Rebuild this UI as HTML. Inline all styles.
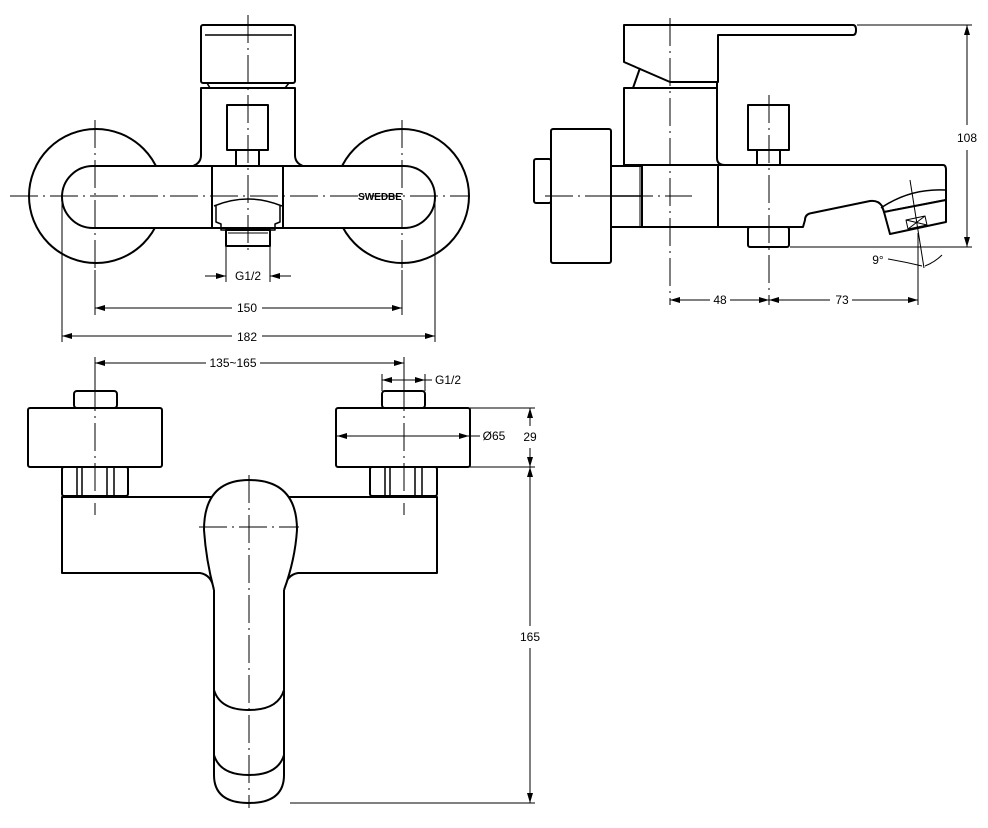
<!DOCTYPE html>
<html><head><meta charset="utf-8"><style>html,body{margin:0;padding:0;background:#fff}svg{display:block}</style></head>
<body>
<svg width="988" height="828" viewBox="0 0 988 828" xmlns="http://www.w3.org/2000/svg" font-family="Liberation Sans, sans-serif" font-size="12">
<defs>
<marker id="a" viewBox="0 0 10 6" refX="10" refY="3" markerWidth="10" markerHeight="6" orient="auto-start-reverse" markerUnits="userSpaceOnUse"><path d="M0,0 L10,3 L0,6 z" fill="#000"/></marker>
</defs>
<g fill="none" stroke="#000" stroke-width="2" stroke-linejoin="round">
<circle cx="96" cy="196" r="67"/>
<circle cx="402" cy="196" r="67"/>
<rect x="62" y="166" width="373" height="62" rx="31" fill="#fff"/>
<rect x="201" y="25" width="94" height="58" rx="2" fill="#fff"/>
<line x1="205" y1="35" x2="292" y2="35" stroke-width="1.5"/>
<path d="M207,83 L210,88 L285,88 L289,83" stroke-width="1.5"/>
<path d="M201,88 L201,155 Q201,163 193,166 L303,166 Q295,163 295,155 L295,88 Z" fill="#fff"/>
<rect x="227" y="105" width="41" height="45"/>
<rect x="236" y="150" width="23" height="16"/>
<rect x="212" y="166" width="71" height="62" fill="#fff"/>
<path d="M214,206 Q248,192 282,206" stroke-width="1.5"/>
<path d="M216,206 L216,222 L221,224 L221,230 L275,230 L275,224 L280,222 L280,206" stroke-width="1.5"/>
<rect x="226" y="230" width="44" height="16" fill="#fff"/>
<line x1="228" y1="233" x2="268" y2="233" stroke-width="1"/>
<path d="M624,25 L853,25 Q856,25 856,30 Q856,35 853,35 L718,35 L718,82 L670,82 L624,62 Z" fill="#fff"/>
<path d="M633,88 L640,68"/>
<path d="M624,88 L717,88 L717,158 Q717,165 725,165 L624,165 Z" fill="#fff"/>
<line x1="717" y1="82" x2="717" y2="88"/>
<rect x="551" y="129" width="60" height="134" rx="2" fill="#fff"/>
<rect x="534" y="159" width="17" height="44" rx="2" fill="#fff"/>
<rect x="611" y="166" width="31" height="61" fill="#fff"/>
<line x1="611" y1="196" x2="642" y2="196" stroke-width="1.5"/>
<line x1="640" y1="166" x2="640" y2="227" stroke-width="1"/>
<path d="M642,165 L943,165 Q946,165 946,170 L946,200 L884,212 L882,206 Q878,200 870,201 L812,213 Q805,214 805,220 L803,227 L642,227 Z" fill="#fff"/>
<line x1="718" y1="165" x2="718" y2="227"/>
<path d="M881,208 Q910,188 946,190" stroke-width="1.5"/>
<path d="M884,212 L946,200 L946,222 L890,234 Z" fill="#fff"/>
<path d="M906,220 L925,216 L927,225 L908,229 Z M906,220 L927,225 M925,216 L908,229" stroke-width="1"/>
<rect x="748" y="105" width="41" height="45"/>
<rect x="757" y="150" width="23" height="15"/>
<rect x="748" y="227" width="41" height="20" rx="2"/>
<rect x="28" y="408" width="134" height="59" rx="2" fill="#fff"/>
<rect x="74" y="391" width="43" height="17" rx="3"/>
<rect x="62" y="467" width="66" height="29" rx="2"/>
<path d="M77,467V496M82,467V496M107,467V496M114,467V496" stroke-width="1.5"/>
<rect x="336" y="408" width="134" height="59" rx="2" fill="#fff"/>
<rect x="382" y="391" width="43" height="17" rx="3"/>
<rect x="370" y="467" width="67" height="29" rx="2"/>
<path d="M385,467V496M390,467V496M415,467V496M422,467V496" stroke-width="1.5"/>
<path d="M62,497 L437,497 L437,573 L298,573 Q286,575 284,590 L284,775 Q284,803 249,803 Q214,803 214,775 L214,590 Q212,575 200,573 L62,573 Z" fill="#fff"/>
<path d="M214,590 Q206,560 204,530 Q204,480 249,480 Q297,480 297,530 Q295,560 284,590" fill="#fff"/>
<path d="M214,690 Q220,710 249,710 Q278,710 284,690" />
<path d="M214,755 Q220,775 249,775 Q278,775 284,755" />
</g>
<g stroke="#000" stroke-width="1" stroke-dasharray="28,5,2,5" fill="none">
<line x1="10" y1="196" x2="470" y2="196"/>
<line x1="248" y1="15" x2="248" y2="255"/>
<line x1="95" y1="120" x2="95" y2="270"/>
<line x1="402" y1="120" x2="402" y2="270"/>
<line x1="545" y1="196" x2="692" y2="196"/>
<line x1="670" y1="18" x2="670" y2="305"/>
<line x1="769" y1="95" x2="769" y2="305"/>
<line x1="95" y1="383" x2="95" y2="515"/>
<line x1="404" y1="383" x2="404" y2="515"/>
<line x1="249" y1="475" x2="249" y2="808"/>
<line x1="199" y1="527" x2="299" y2="527"/>
</g>
<g stroke="#000" stroke-width="1" fill="none">
<line x1="95" y1="270" x2="95" y2="315"/><line x1="402" y1="270" x2="402" y2="315"/>
<line x1="62" y1="200" x2="62" y2="342"/><line x1="435" y1="200" x2="435" y2="342"/>
<line x1="226" y1="246" x2="226" y2="282"/><line x1="270" y1="246" x2="270" y2="282"/>
<line x1="205" y1="276" x2="226" y2="276" marker-end="url(#a)"/><line x1="291" y1="276" x2="270" y2="276" marker-end="url(#a)"/>
<line x1="95" y1="308" x2="232" y2="308" marker-start="url(#a)"/><line x1="262" y1="308" x2="402" y2="308" marker-end="url(#a)"/>
<line x1="62" y1="336" x2="232" y2="336" marker-start="url(#a)"/><line x1="262" y1="336" x2="435" y2="336" marker-end="url(#a)"/>
<line x1="857" y1="25" x2="972" y2="25"/><line x1="790" y1="247" x2="972" y2="247"/>
<line x1="967" y1="25" x2="967" y2="125" marker-start="url(#a)"/><line x1="967" y1="150" x2="967" y2="247" marker-end="url(#a)"/>
<line x1="918" y1="233" x2="918" y2="305"/>
<line x1="670" y1="300" x2="710" y2="300" marker-start="url(#a)"/><line x1="730" y1="300" x2="769" y2="300" marker-end="url(#a)"/>
<line x1="769" y1="300" x2="830" y2="300" marker-start="url(#a)"/><line x1="852" y1="300" x2="918" y2="300" marker-end="url(#a)"/>
<line x1="910" y1="180" x2="924" y2="268"/>
<path d="M888,259 Q905,262 922,266"/><path d="M925,266 Q935,262 942,255"/>
<line x1="95" y1="357" x2="95" y2="383"/><line x1="404" y1="357" x2="404" y2="383"/>
<line x1="95" y1="363" x2="206" y2="363" marker-start="url(#a)"/><line x1="260" y1="363" x2="404" y2="363" marker-end="url(#a)"/>
<line x1="382" y1="374" x2="382" y2="391"/><line x1="425" y1="374" x2="425" y2="391"/>
<line x1="382" y1="380" x2="425" y2="380" marker-start="url(#a)" marker-end="url(#a)"/><line x1="425" y1="380" x2="432" y2="380"/>
<line x1="337" y1="436" x2="469" y2="436" marker-start="url(#a)" marker-end="url(#a)"/><line x1="469" y1="436" x2="480" y2="436"/>
<line x1="470" y1="408" x2="535" y2="408"/><line x1="470" y1="467" x2="535" y2="467"/><line x1="290" y1="803" x2="535" y2="803"/>
<line x1="530" y1="408" x2="530" y2="426" marker-start="url(#a)"/><line x1="530" y1="448" x2="530" y2="467" marker-end="url(#a)"/>
<line x1="530" y1="467" x2="530" y2="626" marker-start="url(#a)"/><line x1="530" y1="648" x2="530" y2="803" marker-end="url(#a)"/>
</g>
<g fill="#000" text-anchor="middle">
<text x="248" y="280">G1/2</text>
<text x="247" y="312">150</text>
<text x="247" y="341">182</text>
<text x="380" y="200" font-size="10" font-weight="bold">SWEDBE</text>
<text x="967" y="142">108</text>
<text x="720" y="304">48</text>
<text x="842" y="304">73</text>
<text x="878" y="264">9°</text>
<text x="233" y="367">135~165</text>
<text x="448" y="384">G1/2</text>
<text x="494" y="440">Ø65</text>
<text x="530" y="441">29</text>
<text x="530" y="641">165</text>
</g>
</svg>
</body></html>
